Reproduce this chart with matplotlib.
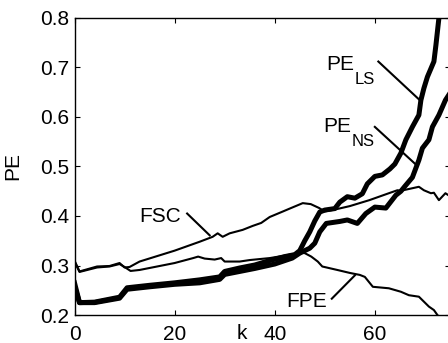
import matplotlib
matplotlib.use("Agg")
import matplotlib.pyplot as plt

# values (k, PE)
k_ls = [0, 1, 4, 9, 10.5, 15, 20, 25, 29, 30, 33, 36, 39, 42, 44, 45, 46, 47, 48, 49, 50,
        52, 53, 54.5, 56, 57.5, 58.5, 60, 61.5, 63, 64, 65.2, 66.2, 67.5, 68.8, 69.2, 69.8,
        70.5, 71.8, 72.2, 72.8, 73.3]
pe_ls = [0.265, 0.225, 0.226, 0.236, 0.255, 0.26, 0.265, 0.271, 0.277, 0.288, 0.295, 0.301,
         0.31, 0.318, 0.322, 0.33, 0.35, 0.368, 0.39, 0.408, 0.412, 0.415, 0.428, 0.439, 0.436,
         0.445, 0.465, 0.48, 0.483, 0.495, 0.505, 0.527, 0.554, 0.58, 0.604, 0.634, 0.658,
         0.681, 0.712, 0.745, 0.8, 0.84]

k_ns = [0, 1, 4, 9, 10.5, 15, 20, 25, 29, 30, 33, 36, 40, 43.5, 45, 46, 47, 48, 49, 50.3,
        53, 54.5, 56.5, 58.2, 60, 62.2, 64.2, 65.2, 66, 67.5, 68.8, 69.5, 70.8, 71.5, 72.8,
        74.1, 75]
pe_ns = [0.258, 0.225, 0.225, 0.234, 0.252, 0.257, 0.262, 0.265, 0.272, 0.282, 0.288, 0.294,
         0.303, 0.315, 0.325, 0.33, 0.335, 0.345, 0.368, 0.385, 0.389, 0.392, 0.385, 0.405,
         0.418, 0.416, 0.442, 0.45, 0.46, 0.478, 0.513, 0.537, 0.554, 0.58, 0.604, 0.634, 0.648]

k_fsc = [0, 1, 4.5, 7, 9, 10, 11, 13, 20, 25, 27.6, 28.6, 29.6, 31, 33.6, 35.6, 37.3, 39,
         41.6, 43, 45.6, 47.2, 48.9, 49.9, 52, 55, 58.9, 62.8, 64.5, 65.2, 68.8, 69.8, 71.2,
         71.8, 72.8, 74.1, 75]
fsc = [0.31, 0.288, 0.298, 0.299, 0.305, 0.296, 0.297, 0.308, 0.33, 0.348, 0.358, 0.365,
       0.358, 0.365, 0.372, 0.38, 0.386, 0.398, 0.409, 0.415, 0.426, 0.424, 0.416, 0.409,
       0.413, 0.42, 0.432, 0.446, 0.452, 0.451, 0.459, 0.452, 0.446, 0.447, 0.432, 0.446, 0.44]

k_fpe = [0, 1, 4.5, 7, 9, 10, 11.2, 13, 20, 23.7, 24.7, 26, 28, 29.3, 30, 31.6, 33, 35, 39,
         42, 45, 46, 47.3, 48.6, 49.5, 52.5, 55, 57, 58, 59.6, 62.8, 65.2, 66.8, 68.8, 70.8,
         71.8, 72.5, 74]
fpe = [0.308, 0.287, 0.296, 0.298, 0.303, 0.297, 0.289, 0.291, 0.305, 0.315, 0.318, 0.314,
       0.312, 0.315, 0.308, 0.308, 0.308, 0.311, 0.315, 0.32, 0.326, 0.325, 0.318, 0.308,
       0.298, 0.291, 0.285, 0.281, 0.277, 0.257, 0.254, 0.247, 0.24, 0.237, 0.217, 0.21,
       0.2, 0.185]

x_ticks = [0, 20, 40, 60]
y_ticks = [0.2, 0.3, 0.4, 0.5, 0.6, 0.7, 0.8]

# label text, subscript, text anchor, leader start, leader end (data coords)
labels = [
    ("FSC", None, (13.0, 0.388), (22.5, 0.405), (27.0, 0.361)),
    ("FPE", None, (42.3, 0.216), (51.4, 0.233), (56.0, 0.280)),
    ("PE", "LS", (50.3, 0.695), (60.7, 0.712), (69.3, 0.631)),
    ("PE", "NS", (49.7, 0.570), (60.0, 0.580), (68.3, 0.503)),
]

plt.rcParams["font.family"] = ["Liberation Sans", "DejaVu Sans"]

fig = plt.figure(figsize=(4.48, 3.43), dpi=100)
ax = fig.add_axes([0.1663, 0.0816, 0.838, 0.866])

ax.plot(k_fsc, fsc, color="black", lw=1.5)
ax.plot(k_fpe, fpe, color="black", lw=1.5)
ax.plot(k_ns, pe_ns, color="black", lw=3.6)
ax.plot(k_ls, pe_ls, color="black", lw=3.6)

for main, sub, pos, p0, p1 in labels:
    ax.plot([p0[0], p1[0]], [p0[1], p1[1]], color="black", lw=1.5)
    t = ax.text(pos[0], pos[1], main, fontsize=15, ha="left", va="baseline")
    if sub:
        ax.annotate(sub, xy=(1, 0), xycoords=t, xytext=(0.5, -7.2),
                    textcoords="offset points", fontsize=12, ha="left", va="baseline")

ax.set_xlim(0, 75)
ax.set_ylim(0.2, 0.8)
ax.set_xticks(x_ticks)
ax.set_yticks(y_ticks)
ax.set_yticklabels([f"{v:.1f}" for v in y_ticks])
ax.tick_params(direction="in", length=3.5, width=0.8, top=True, right=True, labelsize=15)
ax.tick_params(axis="x", pad=7.5)
ax.tick_params(axis="y", pad=4)
for s in ax.spines.values():
    s.set_linewidth(1.0)

ax.set_ylabel("PE", fontsize=15)
ax.yaxis.set_label_coords(-0.14, 0.5)
ax.text(0.446, -0.061, "k", transform=ax.transAxes, fontsize=15, ha="center", va="center")

fig.savefig("out.png", dpi=100)
